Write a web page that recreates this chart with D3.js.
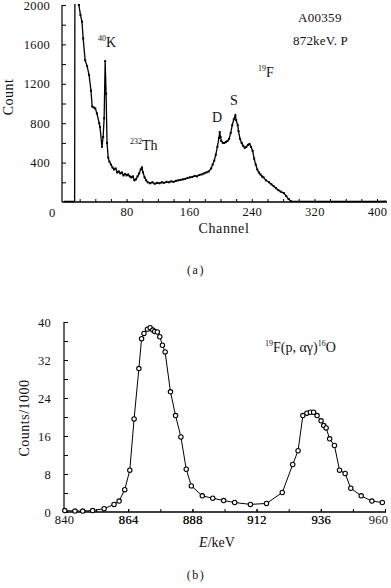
<!DOCTYPE html>
<html><head><meta charset="utf-8">
<script src="https://cdn.jsdelivr.net/npm/d3@7"></script>
<style>
html,body{margin:0;padding:0;background:#fff;}
svg text{font-family:"Liberation Serif","DejaVu Serif",serif !important;fill:#111;}
</style></head>
<body>
<svg id="c" width="391" height="588" font-family="Liberation Serif, DejaVu Serif, serif"></svg>
<script>
// ---- (a) spectrum data ----
const specChannel = [0,6,12,13.6,14,18.6,19,21,23,24.5,27,29.5,32,34.5,36,38,40,42,45,46,48.5,50,51.3,52.6,53.8,55,56.5,58,60,62,64,66,68,70,72,74,76,78,80,82,84,86,88,90,92,94,96,98,99.5,101,103,105,107,110,113,116,119,122,125,128,131,134,137,140,143,146,149,152,155,158,161,164,167,170,173,176,179,182,185,188,190,192,194,196,198,199,200,201,203,205,207,209,211,213,215,217,219,220,222,223,225,227,229,231,233,235,237,239,241,243,245,247,249,251,253,255,258,262,265,268,271,274,277,281,284,287,290,300,320,340,360,380,400,412];
const specCount   = [5,5,5,5,2600,2600,2000,1900,1830,1660,1440,1380,1290,1130,970,960,950,900,800,760,560,660,850,1430,1100,600,450,410,380,350,330,340,300,310,290,300,270,285,270,280,260,250,260,220,230,260,290,330,350,300,250,220,200,190,200,185,195,190,200,195,205,200,210,205,215,220,225,230,235,245,250,255,265,260,275,280,290,300,310,340,380,420,480,560,650,710,660,620,600,600,610,620,640,700,780,840,880,830,780,720,640,600,570,550,560,580,590,560,520,440,380,330,300,280,260,250,220,200,180,160,140,120,105,90,60,30,8,6,5,5,5,5,5,8];
const specXTicks = [0,80,160,240,320,400];
const specYTicks = [400,800,1200,1600,2000];

// ---- (b) excitation curve data ----
const excEnergy = [840.3,844.1,847,850.7,855,858.7,860.6,862.7,864.6,866.2,868,869,869.9,871.2,872.2,873.2,873.9,874.9,875.8,876.8,877.8,879.8,881.7,883.7,885.7,887.6,891.7,895.6,899.7,903.8,909.7,915.7,921.6,925.5,927.5,929.3,930.8,932.1,933.3,934.6,936.1,937.1,938,939.3,941.1,943,945.1,947.2,951.1,955.1,959];
const excCounts = [0.3,0.2,0.2,0.3,0.7,1.6,2.3,4.7,8.8,19.6,30.2,36.5,37.6,38.5,38.8,38.3,38.0,37.9,36.9,35.1,33.7,25.3,20.3,15.8,9.0,5.5,3.4,2.9,2.4,2.0,1.6,1.8,4.1,10.0,12.9,20.3,20.8,21.0,21.0,20.3,19.2,18.2,17.7,15.4,14.0,8.8,8.1,5.0,3.4,2.3,2.0];
const excXTicks = [840,864,888,912,936,960];
const excYTicks = [0,8,16,24,32,40];

const FONT = "Liberation Serif, DejaVu Serif, serif";
const svg = d3.select("#c");
const FS = 12.5;

function styleAxis(g){
  g.attr("font-family",FONT);
  g.select(".domain").remove();
  g.selectAll(".tick line").attr("stroke","#000");
  g.selectAll("text").attr("font-size",FS).attr("fill","#111").attr("letter-spacing",0.3);
}

// ================= (a) =================
const xa = d3.scaleLinear().domain([0,400]).range([64,377]);
const ya = d3.scaleLinear().domain([0,2000]).range([202,5]);
const xaEnd = 387;

const ga = svg.append("g");
ga.append("defs").append("clipPath").attr("id","clipA")
  .append("rect").attr("x",62).attr("y",ya(2000)-1).attr("width",xaEnd-62).attr("height",202);

ga.append("line").attr("x1",62).attr("x2",xaEnd).attr("y1",ya(0)).attr("y2",ya(0)).attr("stroke","#000").attr("stroke-width",1.4);
ga.append("line").attr("x1",62).attr("x2",62).attr("y1",ya(0)).attr("y2",ya(2000)).attr("stroke","#000").attr("stroke-width",1.2);

const ayA = d3.axisLeft(ya).tickValues(d3.range(200,2001,200)).tickSize(-4).tickPadding(12)
  .tickFormat(d => specYTicks.includes(d) ? d : "");
const gya = ga.append("g").attr("transform","translate(62,0)").call(ayA);
styleAxis(gya);

const axA = d3.axisBottom(xa).tickValues(d3.range(20,401,20)).tickSize(-3).tickPadding(5)
  .tickFormat(d => specXTicks.includes(d) ? d : "");
const gxa = ga.append("g").attr("transform",`translate(0,${ya(0)})`).call(axA);
styleAxis(gxa);
ga.append("text").attr("x",xa(0)-12).attr("y",ya(0)+14.5).attr("text-anchor","middle").attr("font-size",FS).text(specXTicks[0]);

const specData = specChannel.map((c,i)=>({c, v:specCount[i]}));
ga.append("path").datum(specData).attr("clip-path","url(#clipA)")
  .attr("fill","none").attr("stroke","#000").attr("stroke-width",1.3)
  .attr("d", d3.line().x(d=>xa(d.c)).y(d=>ya(d.v)));
ga.append("g").attr("clip-path","url(#clipA)").selectAll("rect").data(specData.filter(d=>d.v<2100 && d.c>18 && d.c<292)).join("rect")
  .attr("x",d=>xa(d.c)-1).attr("y",d=>ya(d.v)-1).attr("width",2).attr("height",2).attr("fill","#000");

ga.append("text").attr("transform","translate(13,97) rotate(-90)").attr("text-anchor","middle").attr("font-size",14).attr("letter-spacing",0.5).text("Count");
ga.append("text").attr("x",224).attr("y",233).attr("text-anchor","middle").attr("font-size",14).attr("letter-spacing",0.6).text("Channel");
ga.append("text").attr("x",298).attr("y",22).attr("font-size",13).attr("letter-spacing",0.3).text("A00359");
ga.append("text").attr("x",293).attr("y",45).attr("font-size",13).attr("letter-spacing",0.2).text("872keV. P");
const tK = ga.append("text").attr("x",98).attr("y",47).attr("font-size",14);
tK.append("tspan").attr("font-size",8).attr("dy",-6).text("40");
tK.append("tspan").attr("dy",6).text("K");
const tTh = ga.append("text").attr("x",130).attr("y",150).attr("font-size",14);
tTh.append("tspan").attr("font-size",8).attr("dy",-6).text("232");
tTh.append("tspan").attr("dy",6).text("Th");
const tF = ga.append("text").attr("x",258).attr("y",77).attr("font-size",14);
tF.append("tspan").attr("font-size",8).attr("dy",-6).text("19");
tF.append("tspan").attr("dy",6).text("F");
ga.append("text").attr("x",230).attr("y",105).attr("font-size",14).text("S");
ga.append("text").attr("x",212).attr("y",122).attr("font-size",14).text("D");
ga.append("text").attr("x",196).attr("y",274).attr("text-anchor","middle").attr("font-size",12).attr("letter-spacing",1.5).text("(a)");

// ================= (b) =================
const xb = d3.scaleLinear().domain([840,960]).range([64,385]);
const yb = d3.scaleLinear().domain([0,40]).range([512,322]);
const gb = svg.append("g");
gb.append("line").attr("x1",64).attr("x2",386).attr("y1",yb(0)).attr("y2",yb(0)).attr("stroke","#000").attr("stroke-width",1.3);
gb.append("line").attr("x1",64).attr("x2",64).attr("y1",yb(0)).attr("y2",yb(40)).attr("stroke","#000").attr("stroke-width",1.2);

const ayB = d3.axisLeft(yb).tickValues(d3.range(0,41,4)).tickSize(-4).tickPadding(13)
  .tickFormat(d => excYTicks.includes(d) ? d : "");
const gyb = gb.append("g").attr("transform","translate(64,0)").call(ayB);
styleAxis(gyb);

const axB = d3.axisBottom(xb).tickValues(d3.range(852,960,12).concat(excXTicks)).tickSize(-3).tickPadding(3)
  .tickFormat(d => excXTicks.includes(d) ? d : "");
const gxb = gb.append("g").attr("transform",`translate(0,${yb(0)})`).call(axB);
styleAxis(gxb);
gxb.selectAll(".tick text").filter(d => d === 960).attr("dx",-7);

const excData = excEnergy.map((e,i)=>({e, v:excCounts[i]}));
gb.append("path").datum(excData).attr("fill","none").attr("stroke","#000").attr("stroke-width",1)
  .attr("d", d3.line().x(d=>xb(d.e)).y(d=>yb(d.v)));
gb.selectAll("circle").data(excData).join("circle")
  .attr("cx",d=>xb(d.e)).attr("cy",d=>yb(d.v)).attr("r",2.2)
  .attr("fill","#fff").attr("stroke","#000").attr("stroke-width",1.1);

gb.append("text").attr("transform","translate(29,418) rotate(-90)").attr("text-anchor","middle").attr("font-size",14).attr("letter-spacing",0.5).text("Counts/1000");
const tE = gb.append("text").attr("x",217).attr("y",547).attr("text-anchor","middle").attr("font-size",14);
tE.append("tspan").attr("font-style","italic").text("E");
tE.append("tspan").text("/keV");
const tR = gb.append("text").attr("x",265).attr("y",352).attr("font-size",14);
tR.append("tspan").attr("font-size",8).attr("dy",-6).text("19");
tR.append("tspan").attr("dy",6).text("F(p, αγ)");
tR.append("tspan").attr("font-size",8).attr("dy",-6).text("16");
tR.append("tspan").attr("dy",6).text("O");
gb.append("text").attr("x",196).attr("y",579).attr("text-anchor","middle").attr("font-size",12).attr("letter-spacing",1.5).text("(b)");
</script>
</body></html>
